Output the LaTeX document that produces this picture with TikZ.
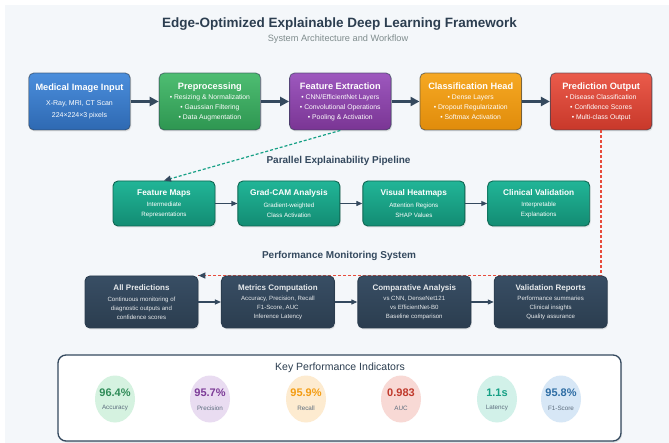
\documentclass[tikz,border=0pt]{standalone}
\usepackage{fontspec}
\setmainfont{Liberation Sans}
\usetikzlibrary{positioning,arrows.meta,shapes.geometric,shadows}

\definecolor{canvas}{HTML}{F4F7FA}
\definecolor{ink}{HTML}{2C3E50}
\definecolor{inksoft}{HTML}{34495E}
\definecolor{muted}{HTML}{7F8C8D}
\definecolor{captiongray}{HTML}{5D6D7E}
\definecolor{bluetop}{HTML}{4B8EDC}
\definecolor{bluebot}{HTML}{2E69B2}
\definecolor{greentop}{HTML}{4EBD72}
\definecolor{greenbot}{HTML}{2E9651}
\definecolor{purpletop}{HTML}{9D58BE}
\definecolor{purplebot}{HTML}{7A3594}
\definecolor{orangetop}{HTML}{F6A823}
\definecolor{orangebot}{HTML}{E08C0B}
\definecolor{redtop}{HTML}{EA5B4B}
\definecolor{redbot}{HTML}{C8382A}
\definecolor{tealtop}{HTML}{21B597}
\definecolor{tealbot}{HTML}{138C73}
\definecolor{tealedge}{HTML}{0F6652}
\definecolor{navytop}{HTML}{384E64}
\definecolor{navybot}{HTML}{2B3D4F}
\definecolor{returnred}{HTML}{E74C3C}
\definecolor{accfill}{HTML}{D5F2E0}
\definecolor{accink}{HTML}{2E8B57}
\definecolor{precfill}{HTML}{E9DCF1}
\definecolor{precink}{HTML}{7D3C98}
\definecolor{recfill}{HTML}{FDEBD0}
\definecolor{recink}{HTML}{F39C12}
\definecolor{aucfill}{HTML}{F8D9D5}
\definecolor{aucink}{HTML}{C0392B}
\definecolor{latfill}{HTML}{D2F1E9}
\definecolor{latink}{HTML}{16A085}
\definecolor{f1fill}{HTML}{D7E7F6}
\definecolor{f1ink}{HTML}{2E6DA4}

% bold first line of a box
\newcommand{\boxhead}[2]{{\bfseries\fontsize{#1}{#1}\selectfont #2}}

\begin{document}
\begin{tikzpicture}[x=1pt,y=-1pt,
  stage/.style={rectangle,rounded corners=5pt,draw=ink,draw opacity=0.6,line width=0.9pt,
    minimum width=101.5pt,minimum height=57pt,inner sep=2pt,align=center,text=white,
    font=\fontsize{6.8}{10}\selectfont,
    drop shadow={opacity=0.18,shadow xshift=1pt,shadow yshift=-1.5pt}},
  explainbox/.style={rectangle,rounded corners=5pt,draw=tealedge,line width=0.9pt,
    top color=tealtop,bottom color=tealbot,
    minimum width=102pt,minimum height=45pt,inner sep=2pt,align=center,text=white,
    font=\fontsize{6.2}{10}\selectfont,
    drop shadow={opacity=0.18,shadow xshift=1pt,shadow yshift=-1.5pt}},
  monitorbox/.style={rectangle,rounded corners=5pt,draw=navybot,line width=0.9pt,
    top color=navytop,bottom color=navybot,
    minimum width=113pt,minimum height=52pt,inner sep=2pt,align=center,text=white!88!navytop,
    font=\fontsize{6.1}{8.8}\selectfont,
    drop shadow={opacity=0.18,shadow xshift=1pt,shadow yshift=-1.5pt}},
  panel/.style={rectangle,rounded corners=8pt,draw=inksoft,line width=1.3pt,fill=white,
    minimum width=563pt,minimum height=86pt,
    drop shadow={opacity=0.2,shadow xshift=1pt,shadow yshift=-1.5pt}},
  heading/.style={font=\bfseries\fontsize{10}{12}\selectfont,text=inksoft},
  kpiring/.style={ellipse,minimum width=40pt,minimum height=47pt,inner sep=0pt},
  kpivalue/.style={font=\bfseries\fontsize{11}{13}\selectfont},
  kpicaption/.style={font=\fontsize{6.3}{8}\selectfont,text=captiongray},
  flow/.style={draw=inksoft,line width=2.3pt,-{Triangle[length=9pt,width=9pt]}},
  link/.style={draw=inksoft,line width=1.1pt,-{Triangle[length=6pt,width=5pt]}},
  explain/.style={draw=latink,line width=1.2pt,dash pattern=on 3pt off 2pt,
    -{Triangle[length=7pt,width=6pt,color=inksoft]}},
  feedback/.style={draw=returnred,line width=1.3pt,dash pattern=on 3pt off 2pt},
  feedbacktip/.style={draw=returnred,line width=1.3pt,
    -{Triangle[length=7pt,width=6pt,color=inksoft]}}]

  \useasboundingbox (0,0) rectangle (669,443);
  \fill[white] (0,0) rectangle (669,443);
  \fill[canvas] (5,5) rectangle (669,443);

  % titles
  \node[font=\bfseries\fontsize{13.5}{16}\selectfont,text=ink] (maintitle) at (339.5,24)
    {Edge-Optimized Explainable Deep Learning Framework};
  \node[font=\fontsize{9.2}{11}\selectfont,text=muted] (subtitle) at (338,39)
    {System Architecture and Workflow};

  % main pipeline
  \node[stage,top color=bluetop,bottom color=bluebot,font=\fontsize{7}{12}\selectfont]
    (medinput) at (79.5,101.5)
    {\boxhead{9.2}{Medical Image Input}\\[3pt] X-Ray, MRI, CT Scan\\ 224×224×3 pixels};
  \node[stage,top color=greentop,bottom color=greenbot,right=28pt of medinput] (preproc)
    {\boxhead{9.2}{Preprocessing}\\ • Resizing \& Normalization\\ • Gaussian Filtering\\ • Data Augmentation};
  \node[stage,top color=purpletop,bottom color=purplebot,right=28pt of preproc] (featext)
    {\boxhead{9.2}{Feature Extraction}\\ • CNN/EfficientNet Layers\\ • Convolutional Operations\\ • Pooling \& Activation};
  \node[stage,top color=orangetop,bottom color=orangebot,right=28pt of featext] (clshead)
    {\boxhead{9.2}{Classification Head}\\ • Dense Layers\\ • Dropout Regularization\\ • Softmax Activation};
  \node[stage,top color=redtop,bottom color=redbot,right=28pt of clshead] (predout)
    {\boxhead{9.2}{Prediction Output}\\ • Disease Classification\\ • Confidence Scores\\ • Multi-class Output};

  \draw[flow] (medinput) -- (preproc);
  \draw[flow] (preproc) -- (featext);
  \draw[flow] (featext) -- (clshead);
  \draw[flow] (clshead) -- (predout);

  % explainability branch
  \node[heading] (explainhead) at (338.5,161) {Parallel Explainability Pipeline};
  \node[explainbox] (featmaps) at (164,203.5)
    {\boxhead{8.3}{Feature Maps}\\[1.2pt] Intermediate\\ Representations};
  \node[explainbox,right=22pt of featmaps] (gradcam)
    {\boxhead{8.3}{Grad-CAM Analysis}\\[1.2pt] Gradient-weighted\\ Class Activation};
  \node[explainbox,right=22pt of gradcam] (heatmaps)
    {\boxhead{8.3}{Visual Heatmaps}\\[1.2pt] Attention Regions\\ SHAP Values};
  \node[explainbox,right=22pt of heatmaps] (clinval)
    {\boxhead{8.3}{Clinical Validation}\\[1.2pt] Interpretable\\ Explanations};

  \draw[link] (featmaps) -- (gradcam);
  \draw[link] (gradcam) -- (heatmaps);
  \draw[link] (heatmaps) -- (clinval);
  \draw[explain] (featext.south) -- (featmaps.north);

  % monitoring branch; the return line goes in before the later boxes so they hide it
  \node[heading] (monitorhead) at (339,256) {Performance Monitoring System};
  \node[monitorbox] (allpred) at (141.5,302)
    {\boxhead{8}{All Predictions}\\[2pt] Continuous monitoring of\\ diagnostic outputs and\\ confidence scores};
  \draw[feedback] (predout.south) |- (allpred.north east);
  \draw[feedbacktip] ([xshift=8pt]allpred.north east) -- (allpred.north east);
  \node[monitorbox,right=22.5pt of allpred] (metrics)
    {\boxhead{8}{Metrics Computation}\\[2pt] Accuracy, Precision, Recall\\ F1-Score, AUC\\ Inference Latency};
  \node[monitorbox,right=22.5pt of metrics] (compare)
    {\boxhead{8}{Comparative Analysis}\\[2pt] vs CNN, DenseNet121\\ vs EfficientNet-B0\\ Baseline comparison};
  \node[monitorbox,right=22.5pt of compare] (reports)
    {\boxhead{8}{Validation Reports}\\[2pt] Performance summaries\\ Clinical insights\\ Quality assurance};

  \draw[link] (allpred) -- (metrics);
  \draw[link] (metrics) -- (compare);
  \draw[link] (compare) -- (reports);

  % indicator panel
  \node[panel] (kpipanel) at (339.5,398) {};
  \node[font=\fontsize{10.5}{12}\selectfont,text=ink] (kpititle) at (340,368) {Key Performance Indicators};

  \node[kpiring,fill=accfill] (kpiacc) at (115,399) {};
  \node[kpivalue,text=accink,yshift=6pt] (accval) at (kpiacc.center) {96.4\%};
  \node[kpicaption,yshift=-9pt] (acclbl) at (kpiacc.center) {Accuracy};

  \node[kpiring,fill=precfill] (kpiprec) at (210,399) {};
  \node[kpivalue,text=precink,yshift=6pt] (precval) at (kpiprec.center) {95.7\%};
  \node[kpicaption,yshift=-9pt] (preclbl) at (kpiprec.center) {Precision};

  \node[kpiring,fill=recfill] (kpirec) at (306,399) {};
  \node[kpivalue,text=recink,yshift=6pt] (recval) at (kpirec.center) {95.9\%};
  \node[kpicaption,yshift=-9pt] (reclbl) at (kpirec.center) {Recall};

  \node[kpiring,fill=aucfill] (kpiauc) at (401,399) {};
  \node[kpivalue,text=aucink,yshift=6pt] (aucval) at (kpiauc.center) {0.983};
  \node[kpicaption,yshift=-9pt] (auclbl) at (kpiauc.center) {AUC};

  \node[kpiring,fill=latfill] (kpilat) at (497,399) {};
  \node[kpivalue,text=latink,yshift=6pt] (latval) at (kpilat.center) {1.1s};
  \node[kpicaption,yshift=-9pt] (latlbl) at (kpilat.center) {Latency};

  \node[kpiring,fill=f1fill] (kpif1) at (561,399) {};
  \node[kpivalue,text=f1ink,yshift=6pt] (f1val) at (kpif1.center) {95.8\%};
  \node[kpicaption,yshift=-9pt] (f1lbl) at (kpif1.center) {F1-Score};
\end{tikzpicture}
\end{document}
